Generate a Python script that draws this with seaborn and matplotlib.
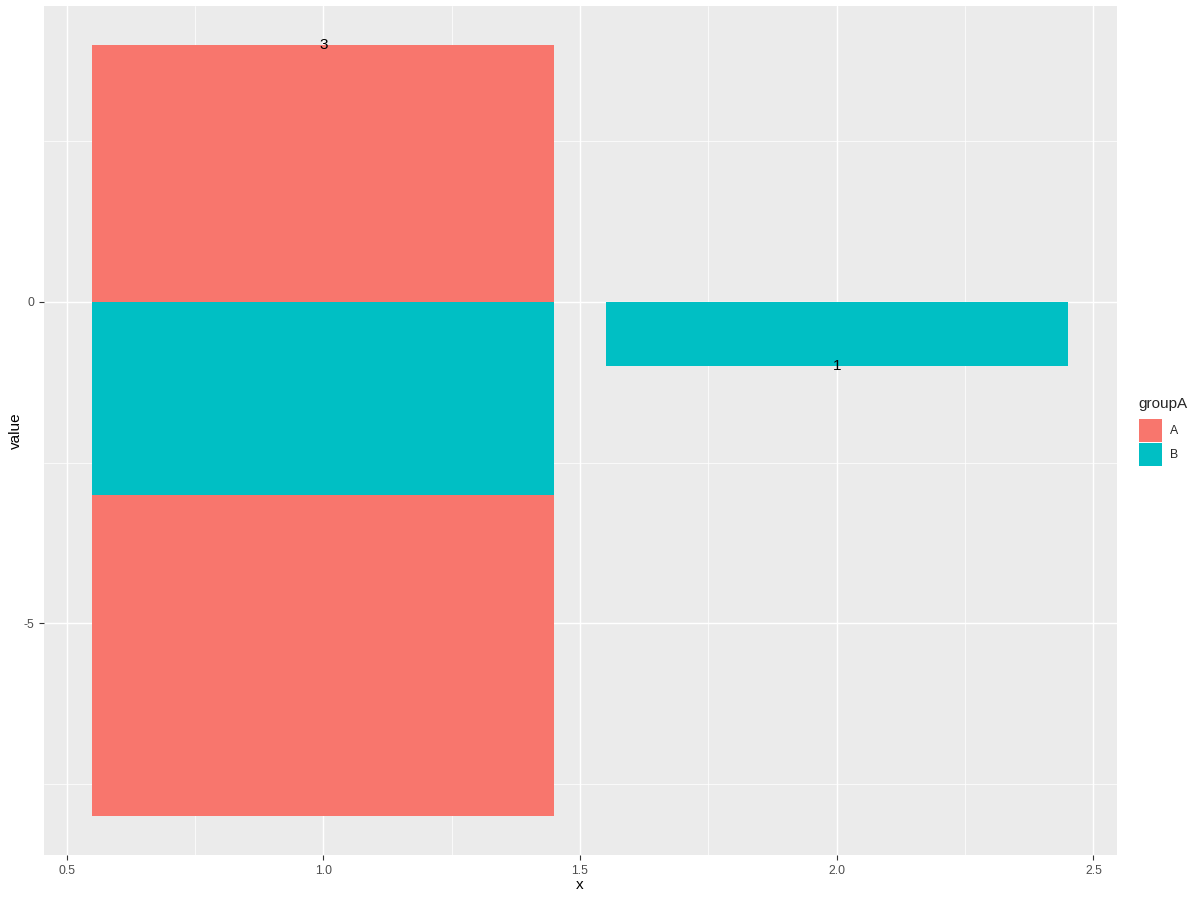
import matplotlib
matplotlib.use("Agg")
import matplotlib.pyplot as plt
import seaborn as sns
import numpy as np
import pandas as pd
from matplotlib.patches import Rectangle
from matplotlib.ticker import FixedLocator

# ---- data ----
x_vals = [1, 1, 1, 2]
groups = ["A", "B", "A", "B"]
values = [4, -3, -5, -1]
label_x = [1, 2]
label_y = [4, -1]
label_text = ["3", "1"]
legend_groups = ["A", "B"]
x_ticks = [0.5, 1.0, 1.5, 2.0, 2.5]
y_ticks = [-5, 0]

palette = {"A": "#F8766D", "B": "#00BFC4"}

sns.set_theme(style="white")
plt.rcParams["font.family"] = ["Liberation Sans", "DejaVu Sans"]

fig = plt.figure(figsize=(12, 9), dpi=100)
W, H = 1200, 900
left, right, top, bottom = 43.5, 1116.5, 6, 855
ax = fig.add_axes([left / W, 1 - bottom / H, (right - left) / W, (bottom - top) / H])
ax.set_facecolor("#EBEBEB")

# stacked bars: positives and negatives stacked separately
pos_base = {}
neg_base = {}
for xv, g, v in zip(x_vals, groups, values):
    if v >= 0:
        b = pos_base.get(xv, 0)
        pos_base[xv] = b + v
    else:
        b = neg_base.get(xv, 0)
        neg_base[xv] = b + v
    df = pd.DataFrame({"x": [xv], "value": [v]})
    sns.barplot(data=df, x="x", y="value", native_scale=True, width=0.9,
                color=palette[g], saturation=1, bottom=b, ax=ax,
                linewidth=0, errorbar=None, zorder=3)

for lx, ly, lt in zip(label_x, label_y, label_text):
    ax.text(lx, ly, lt, ha="center", va="center", fontsize=11, color="black", zorder=5)

ax.set_xlim(0.455, 2.545)
ax.set_ylim(-8.6, 4.6)
ax.xaxis.set_major_locator(FixedLocator(x_ticks))
ax.yaxis.set_major_locator(FixedLocator(y_ticks))
ax.set_xticklabels([f"{t:.1f}" for t in x_ticks])
ax.set_yticklabels([str(t) for t in y_ticks])
ax.xaxis.set_minor_locator(FixedLocator([0.75, 1.25, 1.75, 2.25]))
ax.yaxis.set_minor_locator(FixedLocator([-7.5, -2.5, 2.5]))
ax.grid(True, which="major", color="white", linewidth=1.07, zorder=0)
ax.grid(True, which="minor", color="white", linewidth=0.53, zorder=0)
ax.set_axisbelow(True)
for s in ax.spines.values():
    s.set_visible(False)
ax.tick_params(which="major", direction="out", length=2.75 * 100 / 72, width=1.07 * 0.75,
               color="#333333", labelsize=8.8, labelcolor="#4D4D4D", pad=2.2 * 100 / 72,
               bottom=True, left=True)
ax.tick_params(which="minor", length=0)
ax.set_xlabel("x", fontsize=11, color="black", labelpad=1)
ax.set_ylabel("value", fontsize=11, color="black", labelpad=0)

# legend
fig.text(1138 / W, 1 - 404 / H, "groupA", fontsize=11, ha="left", va="center")
key = 24
for i, g in enumerate(legend_groups):
    y0 = 419 + i * key
    fig.add_artist(Rectangle((1139 / W, 1 - (y0 + key - 1) / H), (key - 1) / W, (key - 1) / H,
                             transform=fig.transFigure, facecolor=palette[g], edgecolor="none"))
    fig.text(1170 / W, 1 - (y0 + key / 2) / H, g, fontsize=8.8, ha="left", va="center")

fig.savefig("out.png", dpi=100)
